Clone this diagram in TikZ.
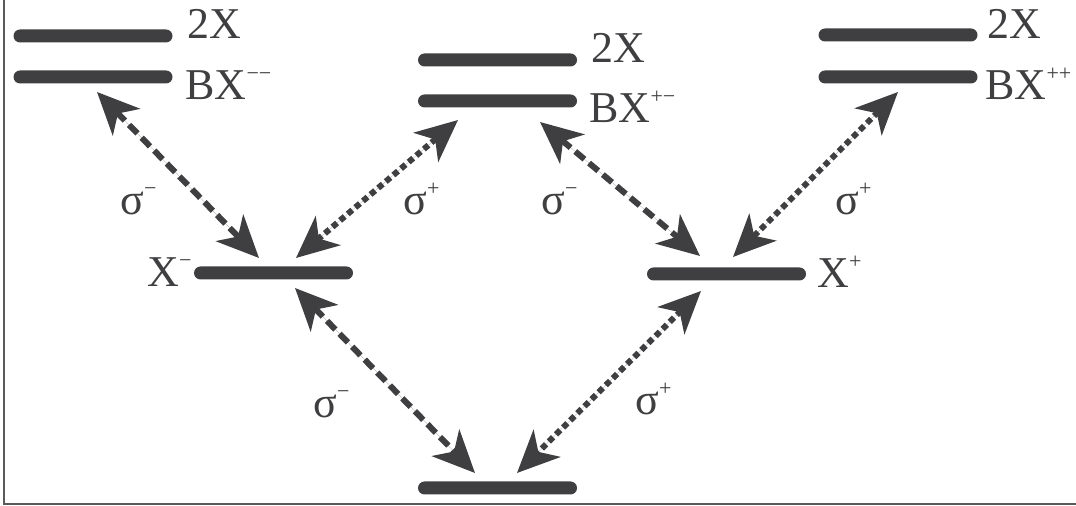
\documentclass[tikz,border=0pt]{standalone}
\usepackage{fontspec}
\setmainfont{Liberation Serif}
\usetikzlibrary{arrows.meta}
\definecolor{ink}{HTML}{3f3f41}
\definecolor{frame}{HTML}{5a5a5a}
\newcommand{\upsc}[1]{\raisebox{9.5pt}{\fontsize{11}{11}\selectfont #1}}
\tikzset{
  lvl/.style={fill=ink,rounded corners=3.25pt,minimum width=79.5pt,minimum height=6.5pt,inner sep=0pt},
  lab/.style={font=\fontsize{22}{26}\selectfont,text=ink,inner sep=0pt,anchor=base west},
  tip/.style={{Stealth[length=21pt,width=19pt,inset=6pt]}-{Stealth[length=21pt,width=19pt,inset=6pt]}},
  dsh/.style={tip,draw=ink,fill=ink,line width=3pt,dash pattern=on 6pt off 3pt},
  dts/.style={tip,draw=ink,fill=ink,line width=3pt,dash pattern=on 3pt off 2pt},
}

\begin{document}
\begin{tikzpicture}[x=0.5pt,y=-0.5pt]
\useasboundingbox (0,0) rectangle (1076,506);
\draw[frame,line width=1pt] (4,0) -- (4,504) -- (1076,504);
% levels
\node[lvl] (xxl) at (93,36) {};
\node[lvl] (bxmm) at (93,77) {};
\node[lvl] (xxc) at (497.5,60) {};
\node[lvl] (bxpm) at (497.5,101) {};
\node[lvl] (xxr) at (898,35) {};
\node[lvl] (bxpp) at (898,77) {};
\node[lvl] (xm) at (273.5,273) {};
\node[lvl] (xp) at (726.5,274) {};
\node[lvl] (gnd) at (497.5,488) {};
% level labels
\node[lab] (lxxl) at (187,39) {2X};
\node[lab] (lbxmm) at (185,100) {BX\upsc{−−}};
\node[lab] (lxxc) at (591,63) {2X};
\node[lab] (lbxpm) at (589,123) {BX\upsc{+−}};
\node[lab] (lxxr) at (987,39) {2X};
\node[lab] (lbxpp) at (985,100) {BX\upsc{++}};
\node[lab] (lxm) at (147,287) {X\upsc{−}};
\node[lab] (lxp) at (817,288) {X\upsc{+}};
% arrow ends
\coordinate (a1) at (97,92);  \coordinate (a2) at (259,258);
\coordinate (b1) at (296,258); \coordinate (b2) at (458,120);
\coordinate (c1) at (540,122); \coordinate (c2) at (700,256);
\coordinate (d1) at (898,92);  \coordinate (d2) at (733,257);
\coordinate (e1) at (295,288); \coordinate (e2) at (475,473);
\coordinate (f1) at (701,291); \coordinate (f2) at (517,473);
\draw[dsh] (a1) -- (a2);
\draw[dts] (b1) -- (b2);
\draw[dsh] (c1) -- (c2);
\draw[dts] (d1) -- (d2);
\draw[dsh] (e1) -- (e2);
\draw[dts] (f1) -- (f2);
% transition labels
\node[lab] (sa) at (120,215) {σ\upsc{−}};
\node[lab] (sb) at (403,215) {σ\upsc{+}};
\node[lab] (sc) at (541,215) {σ\upsc{−}};
\node[lab] (sd) at (835,215) {σ\upsc{+}};
\node[lab] (se) at (313,418) {σ\upsc{−}};
\node[lab] (sf) at (635,415) {σ\upsc{+}};
\end{tikzpicture}
\end{document}
